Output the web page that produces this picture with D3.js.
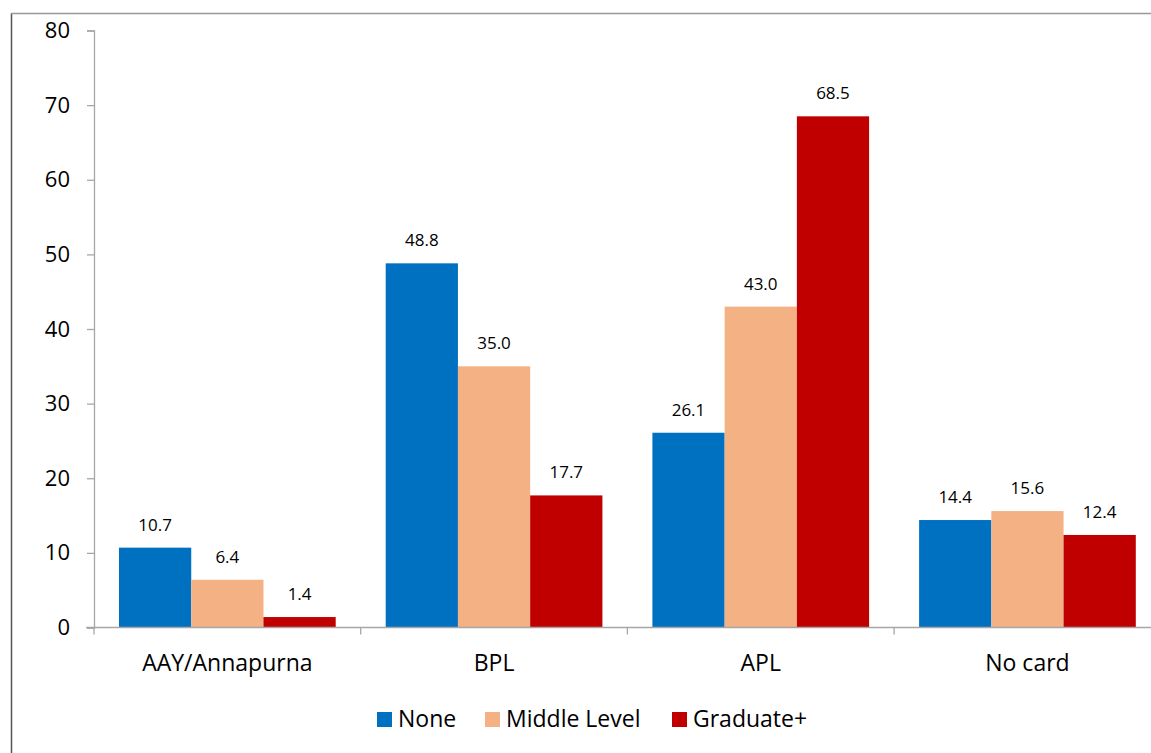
<!DOCTYPE html>
<html>
<head>
<meta charset="utf-8">
<script src="https://cdn.jsdelivr.net/npm/d3@7"></script>
<style>
  html, body { margin: 0; padding: 0; background: #fff; }
  svg { display: block; font-family: "Open Sans", sans-serif; }
</style>
</head>
<body>
<svg id="chart" width="1151" height="753"></svg>
<script>
const categories = ["AAY/Annapurna", "BPL", "APL", "No card"];
const seriesNames = ["None", "Middle Level", "Graduate+"];
const noneValues = [10.7, 48.8, 26.1, 14.4];
const middleValues = [6.4, 35.0, 43.0, 15.6];
const graduateValues = [1.4, 17.7, 68.5, 12.4];
const yTicks = [0, 10, 20, 30, 40, 50, 60, 70, 80];
const colors = ["#0070C0", "#F4B183", "#C00000"];

const seriesValues = [noneValues, middleValues, graduateValues];

const svg = d3.select("#chart");

// frame
svg.append("line").attr("x1", 11.5).attr("x2", 11.5).attr("y1", 13).attr("y2", 760)
  .attr("stroke", "#555").attr("stroke-width", 1.5);
svg.append("line").attr("x1", 11).attr("x2", 1160).attr("y1", 13.5).attr("y2", 13.5)
  .attr("stroke", "#999").attr("stroke-width", 1.5);

const x0 = 94, bandW = 266.7;
const x = d3.scaleBand().domain(categories).range([x0, x0 + bandW * categories.length]).padding(0);
const xInner = d3.scaleBand().domain(seriesNames).range([25, bandW - 25]).padding(0);
const y = d3.scaleLinear().domain([0, 80]).range([627.5, 30.5]);

// y axis
const yAxis = svg.append("g").attr("transform", `translate(${x0},0)`)
  .call(d3.axisLeft(y).tickValues(yTicks).tickSize(7).tickPadding(17).tickFormat(d3.format("d")));
yAxis.select(".domain").attr("stroke", "#a6a6a6").attr("stroke-width", 1.3);
yAxis.selectAll(".tick line").attr("stroke", "#a6a6a6").attr("stroke-width", 1.3);
yAxis.selectAll(".tick text").attr("font-size", 22).attr("font-family", "Open Sans, sans-serif").attr("fill", "#000");

// bars
const groups = svg.append("g").selectAll("g").data(categories).join("g")
  .attr("transform", d => `translate(${x(d)},0)`);

seriesNames.forEach((s, si) => {
  groups.append("rect")
    .attr("x", xInner(s))
    .attr("width", xInner.bandwidth())
    .attr("y", (d, i) => y(seriesValues[si][i]))
    .attr("height", (d, i) => y(0) - y(seriesValues[si][i]))
    .attr("fill", colors[si]);
  groups.append("text")
    .attr("x", xInner(s) + xInner.bandwidth() / 2)
    .attr("y", (d, i) => y(seriesValues[si][i]) - 17)
    .attr("text-anchor", "middle")
    .attr("font-size", 17)
    .attr("fill", "#000")
    .text((d, i) => seriesValues[si][i].toFixed(1));
});

// x axis
const xAxisG = svg.append("g").attr("transform", `translate(0,${y(0)})`);
xAxisG.append("line").attr("x1", 86).attr("x2", 1165).attr("y1", 0).attr("y2", 0)
  .attr("stroke", "#a6a6a6").attr("stroke-width", 1.3);
const bounds = categories.map(c => x(c)).concat([x0 + bandW * categories.length]);
xAxisG.selectAll(".ctick").data(bounds).join("line")
  .attr("x1", d => d).attr("x2", d => d).attr("y1", 0).attr("y2", 7)
  .attr("stroke", "#a6a6a6").attr("stroke-width", 1.3);
xAxisG.selectAll(".clabel").data(categories).join("text")
  .attr("x", d => x(d) + bandW / 2)
  .attr("y", 43)
  .attr("text-anchor", "middle")
  .attr("font-size", 23)
  .attr("fill", "#000")
  .text(d => d);

// legend
const legendItems = [{x: 377}, {x: 485}, {x: 672}];
const legend = svg.append("g");
seriesNames.forEach((s, i) => {
  legend.append("rect").attr("x", legendItems[i].x).attr("y", 712).attr("width", 15).attr("height", 15)
    .attr("fill", colors[i]);
  legend.append("text").attr("x", legendItems[i].x + 21).attr("y", 727)
    .attr("font-size", 23).attr("fill", "#000").text(s);
});
</script>
</body>
</html>
